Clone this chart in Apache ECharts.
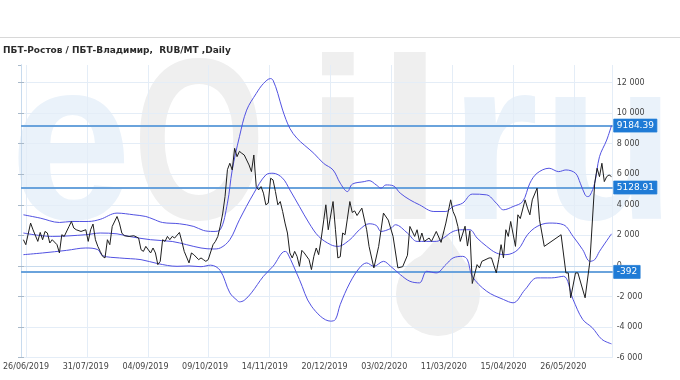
<!DOCTYPE html>
<html><head><meta charset="utf-8">
<script src="https://cdn.jsdelivr.net/npm/echarts@6/dist/echarts.min.js"></script>
<style>html,body{margin:0;padding:0;background:#fff}#c{width:680px;height:380px}</style>
</head><body><div id="c"></div>
<script>
const titleText = 'ПБТ-Ростов / ПБТ-Владимир,  RUB/MT ,Daily';
const dateLabels = ['26/06/2019','31/07/2019','04/09/2019','09/10/2019','14/11/2019','20/12/2019','03/02/2020','11/03/2020','15/04/2020','26/05/2020'];
const levels = [9184.39, 5128.91, -392];

// [trading-day index, value]
const price = [[1,1716],[2,1390],[4,2805],[5,2368],[7,1605],[8,2192],[9,1716],[10,2257],[11,2153],[12,1500],[13,1716],[15,1390],[16,848],[17,2042],[18,1931],[20,2583],[21,2909],[22,2479],[23,2368],[25,2257],[27,2368],[28,1605],[29,2368],[30,2740],[31,1716],[32,1279],[33,952],[34,626],[35,522],[36,1716],[37,1390],[38,2583],[40,3235],[41,2805],[42,2153],[43,1976],[45,1931],[47,1976],[49,1826],[50,1063],[51,952],[52,1279],[54,848],[55,1174],[56,848],[57,85],[58,300],[59,1716],[60,1605],[61,1931],[62,1716],[63,1931],[64,1826],[66,2192],[67,1605],[68,952],[70,196],[71,848],[72,737],[74,411],[75,522],[76,411],[77,300],[78,411],[80,1390],[81,1605],[82,1931],[83,2600],[84,3400],[85,4540],[86,6300],[87,6719],[88,6282],[89,7697],[90,7150],[91,7500],[92,7371],[93,7260],[95,6608],[96,6171],[97,7260],[98,5192],[99,4977],[100,5192],[101,4762],[102,3999],[103,4110],[104,5740],[105,5630],[106,4866],[107,3999],[108,4214],[109,3562],[110,2805],[111,2153],[112,848],[113,522],[114,952],[115,626],[116,-26],[117,1018],[118,848],[120,411],[121,-241],[122,626],[123,1174],[124,737],[125,1716],[127,4000],[128,2368],[130,4214],[131,2368],[132,522],[133,600],[134,2153],[135,2042],[137,4214],[138,3500],[139,3600],[140,3300],[142,3783],[144,2368],[145,1279],[147,-130],[149,1279],[151,3457],[153,3000],[155,1931],[157,-130],[159,-50],[161,700],[162,2583],[164,1931],[165,2368],[166,1605],[167,2153],[168,1605],[170,1826],[171,1605],[173,2257],[175,1540],[177,2805],[179,4325],[180,3562],[181,3200],[182,2583],[183,1605],[185,2600],[186,1300],[187,2300],[188,-1150],[190,85],[191,-130],[192,300],[195,522],[196,522],[198,-456],[199,411],[200,1390],[201,522],[202,2368],[203,1931],[204,2909],[206,1279],[207,3346],[208,3100],[210,4325],[211,3783],[212,3346],[213,4325],[215,5088],[216,3020],[218,1279],[225,2042],[227,-456],[228,-456],[229,-2087],[231,-456],[232,-456],[235,-2087],[237,300],[239,5414],[240,6393],[241,5845],[242,6719],[243,5519],[244,5845],[245,5956],[246,5845]];

const upperBand = [[1,3346],[8,3130],[16,2844],[21,2909],[28,2909],[33,3050],[40,3457],[47,3346],[52,3235],[55,3066],[59,2840],[66,2759],[72,2583],[76,2322],[80,2257],[83,2368],[86,4110],[88,6282],[91,8454],[94,10196],[98,11285],[101,11937],[104,12263],[105,12153],[107,11285],[109,10196],[112,9002],[115,8350],[118,7913],[122,7371],[126,6719],[130,6282],[133,5414],[136,4866],[138,5350],[143,5519],[145,5584],[148,5300],[150,5088],[152,5300],[155,5250],[158,4760],[162,4325],[166,4000],[172,3562],[177,3562],[180,3888],[184,4110],[188,4700],[194,4651],[198,4110],[201,3672],[205,3888],[209,4214],[212,5414],[215,6066],[220,6393],[224,6171],[227,6282],[231,6066],[233,5414],[235,4651],[236,4540],[237,4600],[239,5414],[241,7150],[244,8238],[246,9184.39]];

const middleBand = [[1,2153],[13,1931],[27,2042],[33,2153],[40,2100],[45,1931],[54,1716],[63,1600],[69,1390],[75,1174],[80,1109],[83,1174],[87,1716],[91,3020],[97,4762],[102,5956],[105,6066],[109,5740],[112,4977],[116,3888],[120,2805],[124,1931],[129,1390],[132,1279],[137,1716],[141,2368],[145,2759],[148,2650],[150,2257],[154,2450],[156,2694],[161,2150],[165,1605],[169,1605],[173,1605],[176,1826],[180,2257],[184,2368],[187,2368],[190,1826],[194,1279],[198,848],[202,737],[207,1063],[211,2042],[215,2583],[220,2805],[226,2694],[230,1931],[234,1063],[237,300],[239,411],[241,952],[246,2100]];

const lowerBand = [[1,737],[9,848],[19,1018],[27,1174],[32,1063],[34,672],[41,522],[50,411],[57,150],[65,-26],[70,0],[75,-50],[79,50],[83,-300],[87,-1761],[90,-2250],[91,-2350],[93,-2250],[96,-1761],[101,-678],[105,-26],[110,952],[111,848],[116,-894],[121,-2635],[129,-3614],[131,-3503],[133,-2524],[137,-1109],[141,-130],[144,196],[147,-26],[151,300],[154,-26],[158,-567],[162,-1005],[166,-1109],[169,-352],[173,-456],[177,85],[180,522],[184,626],[186,400],[188,-678],[194,-1657],[201,-2198],[205,-2414],[210,-1546],[215,-783],[221,-783],[226,-678],[230,-2198],[234,-3503],[238,-4045],[242,-4808],[246,-5100]];

const FONT = '"DejaVu Sans", Verdana, sans-serif';
const fmtThousands = v => (v < 0 ? '-' : '') + String(Math.abs(v)).replace(/\B(?=(\d{3})+(?!\d))/g, ' ');

const chart = echarts.init(document.getElementById('c'), null, {renderer: 'canvas'});
const gridPos = {top: 65, bottom: 22.4, right: 67.3};
const bandStyle = {color: '#5252e2', width: 1};

const wmBlue = '#eaf2fa', wmGrey = '#efefef';
const wmFont = 'bold 230px "Liberation Sans", Arial, sans-serif';
function wmLetter(ch, x, color, sx) {
  return {type: 'text', z: -10, silent: true, x: x, y: 156, scaleX: sx || 1,
    style: {text: ch, font: wmFont, fill: color, verticalAlign: 'middle', align: 'left'}};
}

chart.setOption({
  animation: false,
  backgroundColor: '#fff',
  graphic: [
    wmLetter('e', 10, wmBlue, 0.95),
    wmLetter('O', 133, wmGrey, 0.74),
    wmLetter('i', 306, wmGrey, 1),
    wmLetter('l', 378, wmGrey, 1),
    {type: 'circle', z: -10, silent: true, shape: {cx: 438, cy: 294, r: 42}, style: {fill: wmGrey}},
    {type: 'polygon', z: -10, silent: true, shape: {points: [[398, 282], [478, 282], [444, 230]]}, style: {fill: wmGrey}},
    wmLetter('r', 449, wmBlue, 1),
    wmLetter('u', 542, wmBlue, 0.95),
    {type: 'line', z: 5, silent: true, shape: {x1: 0, y1: 37.5, x2: 680, y2: 37.5}, style: {stroke: '#d8d8d8', lineWidth: 1}},
    {type: 'text', z: 5, silent: true, x: 3, y: 51,
      style: {text: titleText, font: 'bold 9px "DejaVu Sans", Verdana, sans-serif', fill: '#2b2b2b', verticalAlign: 'middle'}}
  ],
  grid: [
    Object.assign({left: 21}, gridPos),
    Object.assign({left: 24}, gridPos)
  ],
  xAxis: [
    {gridIndex: 0, type: 'value', position: 'bottom', min: 0, max: 246.5,
      axisLine: {show: true, lineStyle: {color: '#c8dbee'}}, axisTick: {show: false},
      axisLabel: {show: false}, splitLine: {show: false}},
    {gridIndex: 1, type: 'value', position: 'bottom', min: 0, max: 9.635, interval: 1,
      axisLine: {show: false}, axisTick: {show: false}, axisLabel: {show: false},
      splitLine: {show: true, lineStyle: {color: '#e4edf7', width: 1}}},
    {gridIndex: 1, type: 'value', position: 'bottom', offset: 0, min: 0, max: 9.828, interval: 1,
      axisLine: {show: false}, axisTick: {show: false}, splitLine: {show: false},
      axisLabel: {show: true, showMaxLabel: false, margin: 5, fontSize: 8, color: '#444', fontFamily: FONT,
        formatter: v => dateLabels[Math.round(v)] || ''}}
  ],
  yAxis: [
    {gridIndex: 0, type: 'value', position: 'right', min: -6000, max: 13150, interval: 2000,
      axisLine: {show: true, lineStyle: {color: '#c8dbee'}},
      axisTick: {show: true, length: 3, lineStyle: {color: '#a9b9c9'}},
      axisLabel: {show: true, showMaxLabel: false, margin: 4, fontSize: 8, color: '#444', fontFamily: FONT,
        formatter: v => fmtThousands(v)},
      splitLine: {show: true, showMaxLine: false, lineStyle: {color: '#e4edf7'}}},
    {gridIndex: 0, type: 'value', position: 'left', min: -6000, max: 13150, interval: 2000,
      axisLine: {show: true, lineStyle: {color: '#c8dbee'}},
      axisTick: {show: true, length: 3, lineStyle: {color: '#a9b9c9'}},
      axisLabel: {show: false}, splitLine: {show: false}},
    {gridIndex: 1, type: 'value', min: 0, max: 1, show: false}
  ],
  series: [
    {type: 'line', name: 'upper', data: upperBand, xAxisIndex: 0, yAxisIndex: 0, showSymbol: false, smooth: 0.35,
      lineStyle: bandStyle, silent: true, z: 3},
    {type: 'line', name: 'middle', data: middleBand, xAxisIndex: 0, yAxisIndex: 0, showSymbol: false, smooth: 0.35,
      lineStyle: bandStyle, silent: true, z: 3},
    {type: 'line', name: 'lower', data: lowerBand, xAxisIndex: 0, yAxisIndex: 0, showSymbol: false, smooth: 0.35,
      lineStyle: bandStyle, silent: true, z: 3},
    {type: 'line', name: 'price', data: price, xAxisIndex: 0, yAxisIndex: 0, showSymbol: false,
      lineStyle: {color: '#1e1e1e', width: 1}, silent: true, z: 4,
      markLine: {silent: true, symbol: ['none', 'none'], z: 2,
        lineStyle: {type: 'solid', color: '#6aa3dc', width: 2},
        label: {show: true, position: 'end', distance: 1, formatter: p => String(p.value),
          backgroundColor: '#1f7bd6', color: '#fff', padding: [2, 3, 2, 3], fontSize: 9, fontFamily: FONT,
          borderColor: '#5a9fe0', borderWidth: 0.5},
        emphasis: {disabled: true},
        data: levels.map(v => ({yAxis: v}))}}
  ]
});
</script></body></html>
